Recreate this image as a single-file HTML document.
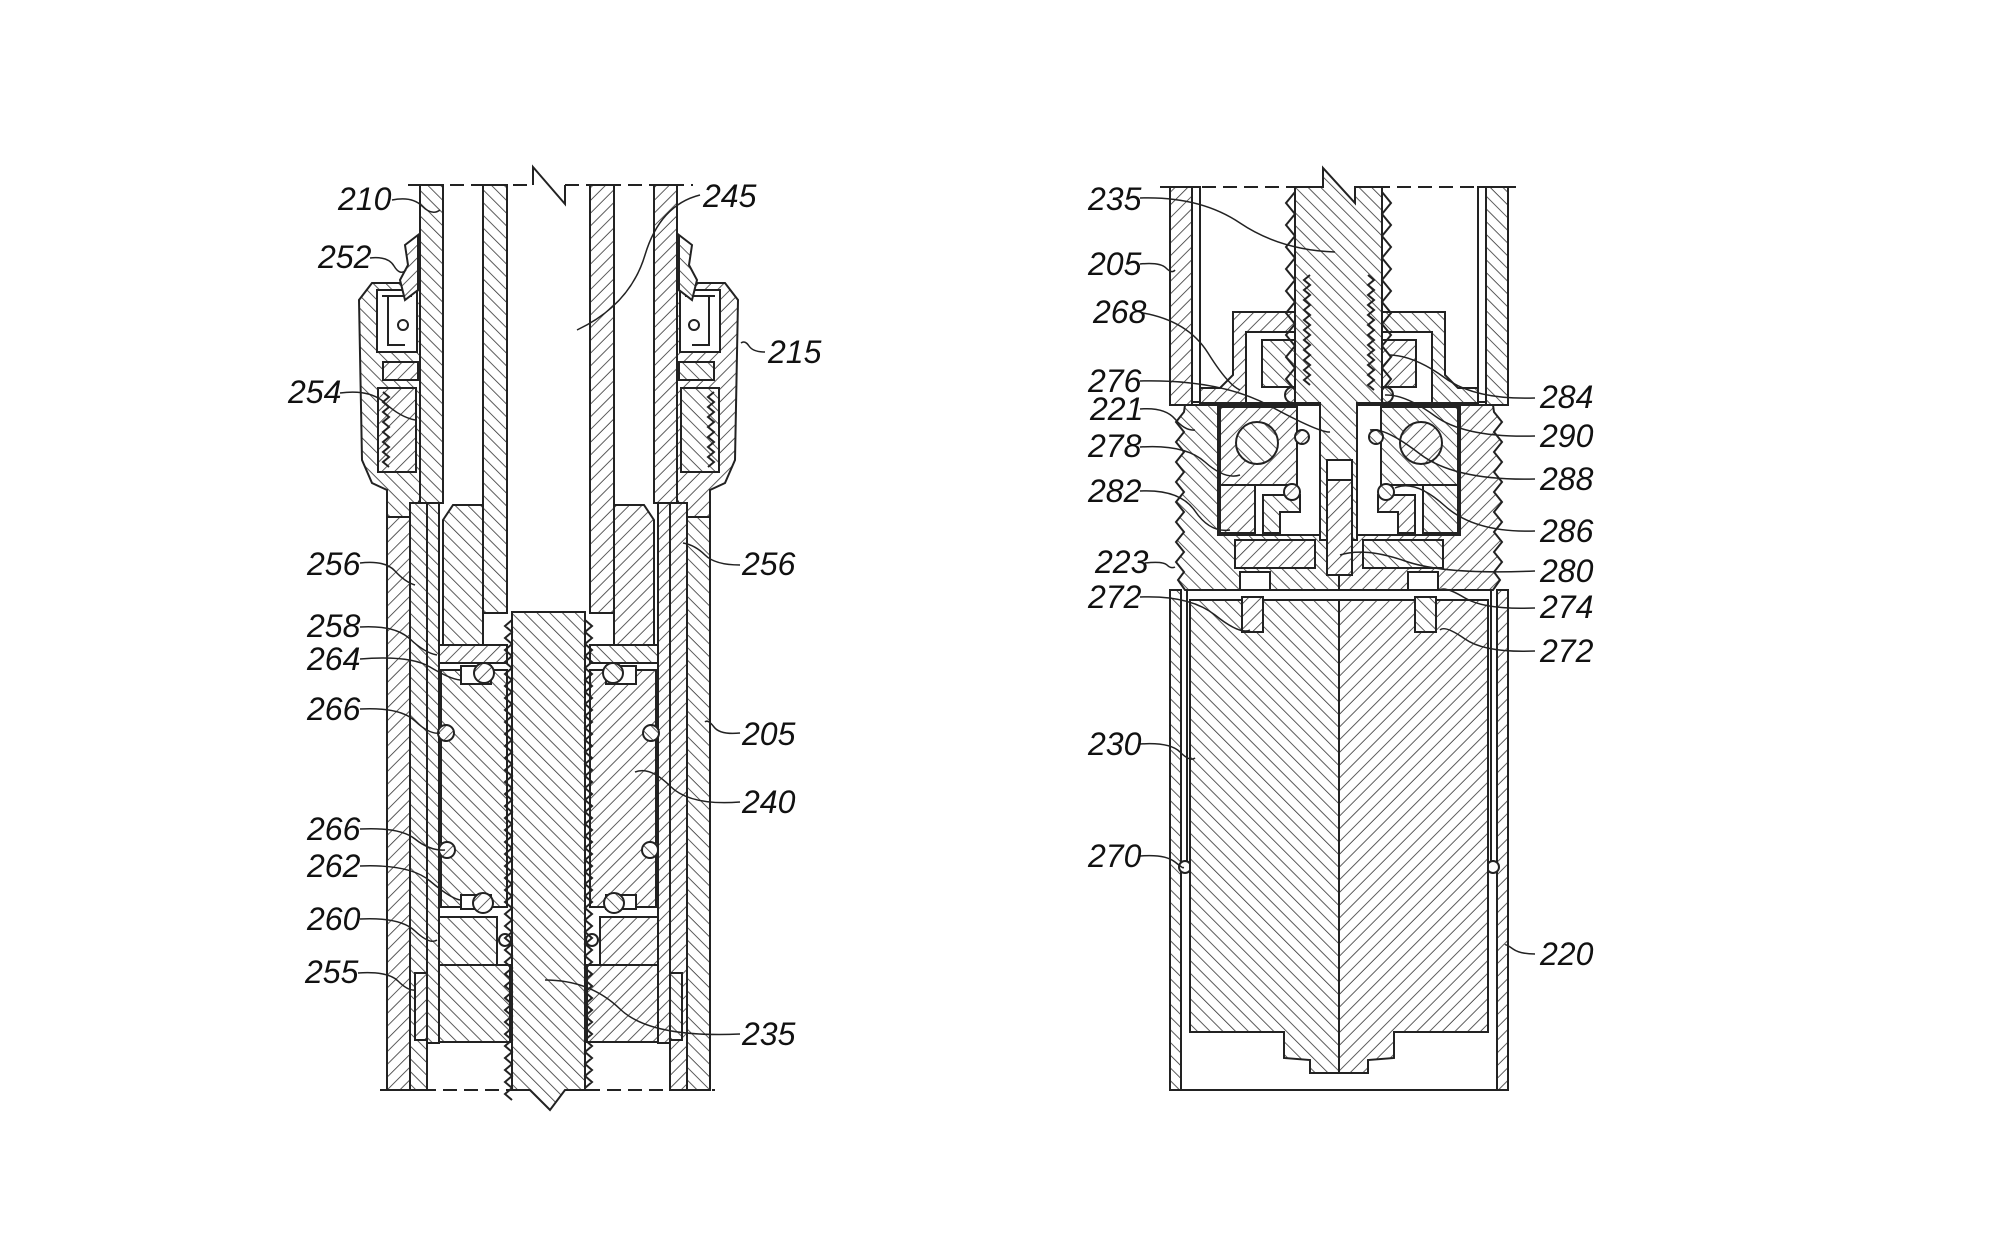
<!DOCTYPE html>
<html><head><meta charset="utf-8"><style>
html,body{margin:0;padding:0;background:#fff}
svg{display:block}
text{font-family:"Liberation Sans",sans-serif;font-style:italic;font-size:32px;fill:#111}
</style></head><body>
<svg width="1992" height="1260" viewBox="0 0 1992 1260" xmlns="http://www.w3.org/2000/svg">
<defs>
<pattern id="hA" width="9" height="9" patternUnits="userSpaceOnUse" patternTransform="rotate(-45)">
<rect width="9" height="9" fill="#fff"/><line x1="0" y1="0" x2="0" y2="9" stroke="#333" stroke-width="1.6"/></pattern>
<pattern id="hB" width="9" height="9" patternUnits="userSpaceOnUse" patternTransform="rotate(45)">
<rect width="9" height="9" fill="#fff"/><line x1="0" y1="0" x2="0" y2="9" stroke="#333" stroke-width="1.6"/></pattern>
</defs>
<g stroke="#222" stroke-width="2" fill="none">

<!-- ================= LEFT FIGURE ================= -->
<path d="M408 185 H533 M565 185 H693" stroke-dasharray="14,7"/>
<path d="M533 185 L533 167 L565 204 L565 185"/>
<path d="M380 1090 H530 M565 1090 H715" stroke-dasharray="14,7"/>

<g id="lhalf">
 <path d="M372 283 H420 V500 L410 517 H387 V490 L372 483 L362 460 L359 300 Z" fill="url(#hA)"/>
 <rect x="377" y="290" width="40" height="62" fill="#fff"/>
 <path d="M382 296 H412 M388 296 V345 H405" />
 <circle cx="403" cy="325" r="5"/>
 <rect x="383" y="362" width="35" height="18" fill="url(#hB)"/>
 <rect x="378" y="388" width="38" height="84" fill="url(#hB)"/>
 <path d="M383 392 l6 5 l-6 5 l6 5 l-6 5 l6 5 l-6 5 l6 5 l-6 5 l6 5 l-6 5 l6 5 l-6 5 l6 5 l-6 5 l6 5"/>
 <path d="M405 245 L418 235 L418 290 L405 300 L400 280 L408 265 Z" fill="url(#hB)"/>
 <rect x="387" y="517" width="23" height="573" fill="url(#hB)"/>
 <rect x="410" y="503" width="17" height="587" fill="url(#hA)"/>
 <rect x="420" y="185" width="23" height="318" fill="url(#hA)"/>
 <rect x="427" y="503" width="12" height="540" fill="url(#hA)"/>
 <rect x="483" y="185" width="24" height="428" fill="url(#hA)"/>
 <path d="M443 520 L453 505 H483 V645 H443 Z" fill="url(#hA)"/>
 <rect x="439" y="645" width="68" height="18" fill="url(#hB)"/>
 <path d="M441 670 H507 V907 H441 V855 L449 855 L449 845 L441 843 V740 L449 738 L449 728 L441 726 Z" fill="url(#hA)"/>
 <rect x="461" y="666" width="30" height="18" fill="#fff"/>
 <circle cx="484" cy="673" r="10" fill="url(#hB)"/>
 <circle cx="446" cy="733" r="8" fill="url(#hB)"/>
 <circle cx="447" cy="850" r="8" fill="url(#hB)"/>
 <rect x="461" y="895" width="30" height="14" fill="#fff"/>
 <circle cx="483" cy="903" r="10" fill="url(#hB)"/>
 <rect x="439" y="917" width="58" height="48" fill="url(#hA)"/>
 <circle cx="505" cy="940" r="6" fill="#fff"/>
 <rect x="439" y="965" width="71" height="77" fill="url(#hA)"/>
 <rect x="415" y="973" width="12" height="67" fill="url(#hB)"/>
</g>
<use href="#lhalf" transform="translate(1097,0) scale(-1,1)"/>
<!-- screw 235 left -->
<path d="M512 612 H585 V1090 L565 1090 L550 1110 L530 1090 H512 Z" fill="url(#hA)"/>
<path d="M512 620 l-7 6 l7 6 l-7 6 l7 6 l-7 6 l7 6 l-7 6 l7 6 l-7 6 l7 6 l-7 6 l7 6 l-7 6 l7 6 l-7 6 l7 6 l-7 6 l7 6 l-7 6 l7 6 l-7 6 l7 6 l-7 6 l7 6 l-7 6 l7 6 l-7 6 l7 6 l-7 6 l7 6 l-7 6 l7 6 l-7 6 l7 6 l-7 6 l7 6 l-7 6 l7 6 l-7 6 l7 6 l-7 6 l7 6 l-7 6 l7 6 l-7 6 l7 6 l-7 6 l7 6 l-7 6 l7 6 l-7 6 l7 6 l-7 6 l7 6 l-7 6 l7 6 l-7 6 l7 6 l-7 6 l7 6 l-7 6 l7 6 l-7 6 l7 6 l-7 6 l7 6 l-7 6 l7 6 l-7 6 l7 6 l-7 6 l7 6 l-7 6 l7 6 l-7 6 l7 6 l-7 6 l7 6 l-7 6 l7 6"/>
<path d="M585 620 l7 6 l-7 6 l7 6 l-7 6 l7 6 l-7 6 l7 6 l-7 6 l7 6 l-7 6 l7 6 l-7 6 l7 6 l-7 6 l7 6 l-7 6 l7 6 l-7 6 l7 6 l-7 6 l7 6 l-7 6 l7 6 l-7 6 l7 6 l-7 6 l7 6 l-7 6 l7 6 l-7 6 l7 6 l-7 6 l7 6 l-7 6 l7 6 l-7 6 l7 6 l-7 6 l7 6 l-7 6 l7 6 l-7 6 l7 6 l-7 6 l7 6 l-7 6 l7 6 l-7 6 l7 6 l-7 6 l7 6 l-7 6 l7 6 l-7 6 l7 6 l-7 6 l7 6 l-7 6 l7 6 l-7 6 l7 6 l-7 6 l7 6 l-7 6 l7 6 l-7 6 l7 6 l-7 6 l7 6 l-7 6 l7 6 l-7 6 l7 6 l-7 6 l7 6 l-7 6 l7 6 l-7 6"/>

<!-- ================= RIGHT FIGURE ================= -->
<path d="M1160 187 H1323 M1355 187 H1518" stroke-dasharray="14,7"/>
<g id="rhalf">
 <rect x="1170" y="187" width="22" height="218" fill="url(#hB)"/>
 <rect x="1192" y="187" width="8" height="215" fill="#fff"/>
 <rect x="1170" y="590" width="11" height="500" fill="url(#hA)"/>
 <path d="M1187 590 V862 M1181 872 V1090"/>
 <circle cx="1185" cy="867" r="6" fill="#fff"/>
 <path d="M1233 312 H1339 V403 H1200 V388 L1220 388 L1233 375 Z" fill="url(#hB)"/>
 <rect x="1246" y="332" width="60" height="71" fill="#fff"/>
 <rect x="1262" y="340" width="48" height="47" fill="url(#hA)"/>
 <circle cx="1293" cy="395" r="8" fill="url(#hB)"/>
 <path d="M1185 405 H1339 V590 H1185 L1178 580 l6 -8 l-8 -10 l8 -10 l-8 -10 l8 -10 l-8 -10 l8 -10 l-8 -10 l8 -10 l-8 -10 l8 -10 l-8 -10 l8 -10 l-8 -10 l8 -10 l-8 -10 l8 -10 Z" fill="url(#hA)"/>
 <rect x="1218" y="405" width="108" height="130" fill="#fff"/>
 <rect x="1220" y="407" width="77" height="78" fill="url(#hB)"/>
 <circle cx="1257" cy="443" r="21" fill="url(#hA)"/>
 <rect x="1220" y="485" width="35" height="48" fill="url(#hB)"/>
 <path d="M1263 495 H1300 V512 H1280 V533 H1263 Z" fill="url(#hA)"/>
 <circle cx="1292" cy="492" r="8" fill="url(#hB)"/>
 <circle cx="1302" cy="437" r="7" fill="url(#hB)"/>
 <rect x="1235" y="540" width="80" height="28" fill="url(#hB)"/>
 <rect x="1240" y="572" width="30" height="18" fill="#fff"/>
 <path d="M1190 600 H1339 V1073 H1310 V1060 L1284 1058 V1032 H1190 Z" fill="url(#hA)"/>
 <rect x="1242" y="597" width="21" height="35" fill="url(#hB)"/>
</g>
<use href="#rhalf" transform="translate(2678,0) scale(-1,1)"/>
<path d="M1170 1090 H1508"/>
<!-- screw 235 right -->
<path d="M1295 187 H1323 L1323 168 L1355 203 V187 H1382 V403 H1357 V540 H1320 V403 H1295 Z" fill="url(#hA)"/>
<path d="M1295 192 l-9 11 l9 11 l-9 11 l9 11 l-9 11 l9 11 l-9 11 l9 11 l-9 11 l9 11 l-9 11 l9 11 l-9 11 l9 11 l-9 11 l9 11 l-9 11 l9 11 M1382 192 l9 11 l-9 11 l9 11 l-9 11 l9 11 l-9 11 l9 11 l-9 11 l9 11 l-9 11 l9 11 l-9 11 l9 11 l-9 11 l9 11 l-9 11 l9 11 l-9 11"/>
<path d="M1310 275 l-6 5 l6 5 l-6 5 l6 5 l-6 5 l6 5 l-6 5 l6 5 l-6 5 l6 5 l-6 5 l6 5 l-6 5 l6 5 l-6 5 l6 5 l-6 5 l6 5 l-6 5 l6 5 l-6 5 l6 5 M1368 275 l6 5 l-6 5 l6 5 l-6 5 l6 5 l-6 5 l6 5 l-6 5 l6 5 l-6 5 l6 5 l-6 5 l6 5 l-6 5 l6 5 l-6 5 l6 5 l-6 5 l6 5 l-6 5 l6 5 l-6 5 l6 5"/>
<rect x="1327" y="460" width="25" height="115" fill="url(#hB)"/>
<rect x="1327" y="460" width="25" height="20" fill="#fff"/>

<!-- ================= LEADERS ================= -->
<g stroke-width="1.5">
<path d="M392 200 q20 -4 30 6 t18 4"/>
<path d="M370 258 q18 -2 24 8 t12 4"/>
<path d="M340 393 q30 -4 45 10 t30 17"/>
<path d="M700 195 q-40 10 -55 60 t-68 75"/>
<path d="M765 352 q-12 0 -16 -6 t-8 -3"/>
<path d="M360 563 q25 -3 35 8 t20 14"/>
<path d="M740 565 q-25 0 -35 -10 t-22 -12"/>
<path d="M360 627 q35 -2 50 12 t27 16"/>
<path d="M360 659 q50 -4 70 8 t30 13"/>
<path d="M360 709 q40 -2 55 12 t25 12"/>
<path d="M740 733 q-20 2 -26 -6 t-9 -5"/>
<path d="M740 802 q-50 4 -70 -16 t-35 -14"/>
<path d="M360 829 q40 -2 55 10 t30 11"/>
<path d="M360 866 q50 -2 70 15 t30 19"/>
<path d="M360 919 q40 -2 55 12 t22 9"/>
<path d="M358 973 q30 -2 40 8 t17 9"/>
<path d="M740 1034 q-90 4 -120 -25 t-75 -29"/>
<path d="M1140 198 q60 -2 100 25 t95 29"/>
<path d="M1140 264 q20 -2 26 4 t9 2"/>
<path d="M1143 313 q45 8 65 40 t32 37"/>
<path d="M1140 381 q80 -2 130 25 t60 26"/>
<path d="M1140 409 q25 -2 35 10 t20 11"/>
<path d="M1140 447 q45 -3 65 15 t35 13"/>
<path d="M1140 491 q40 -2 55 20 t35 19"/>
<path d="M1145 563 q18 -2 22 2 t8 2"/>
<path d="M1140 597 q50 -2 75 18 t35 15"/>
<path d="M1535 398 q-60 2 -90 -20 t-55 -23"/>
<path d="M1535 436 q-70 2 -100 -20 t-50 -21"/>
<path d="M1535 479 q-80 2 -115 -25 t-50 -24"/>
<path d="M1535 531 q-60 2 -90 -25 t-50 -18"/>
<path d="M1535 571 q-90 4 -130 -10 t-65 -6"/>
<path d="M1535 608 q-50 2 -70 -10 t-25 -8"/>
<path d="M1535 651 q-50 2 -70 -12 t-25 -9"/>
<path d="M1140 744 q30 -2 40 8 t15 6"/>
<path d="M1140 856 q25 -2 35 6 t8 5"/>
<path d="M1535 954 q-15 0 -22 -5 t-8 -4"/>
</g>
</g>

<!-- ================= LABELS ================= -->
<text x="338" y="210">210</text>
<text x="318" y="268">252</text>
<text x="288" y="403">254</text>
<text x="703" y="207">245</text>
<text x="768" y="363">215</text>
<text x="307" y="575">256</text>
<text x="742" y="575">256</text>
<text x="307" y="637">258</text>
<text x="307" y="670">264</text>
<text x="307" y="720">266</text>
<text x="742" y="745">205</text>
<text x="742" y="813">240</text>
<text x="307" y="840">266</text>
<text x="307" y="877">262</text>
<text x="307" y="930">260</text>
<text x="305" y="983">255</text>
<text x="742" y="1045">235</text>

<text x="1088" y="210">235</text>
<text x="1088" y="275">205</text>
<text x="1093" y="323">268</text>
<text x="1088" y="392">276</text>
<text x="1090" y="420">221</text>
<text x="1088" y="457">278</text>
<text x="1088" y="502">282</text>
<text x="1095" y="573">223</text>
<text x="1088" y="608">272</text>
<text x="1540" y="408">284</text>
<text x="1540" y="447">290</text>
<text x="1540" y="490">288</text>
<text x="1540" y="542">286</text>
<text x="1540" y="582">280</text>
<text x="1540" y="618">274</text>
<text x="1540" y="662">272</text>
<text x="1088" y="755">230</text>
<text x="1088" y="867">270</text>
<text x="1540" y="965">220</text>
</svg>
</body></html>
